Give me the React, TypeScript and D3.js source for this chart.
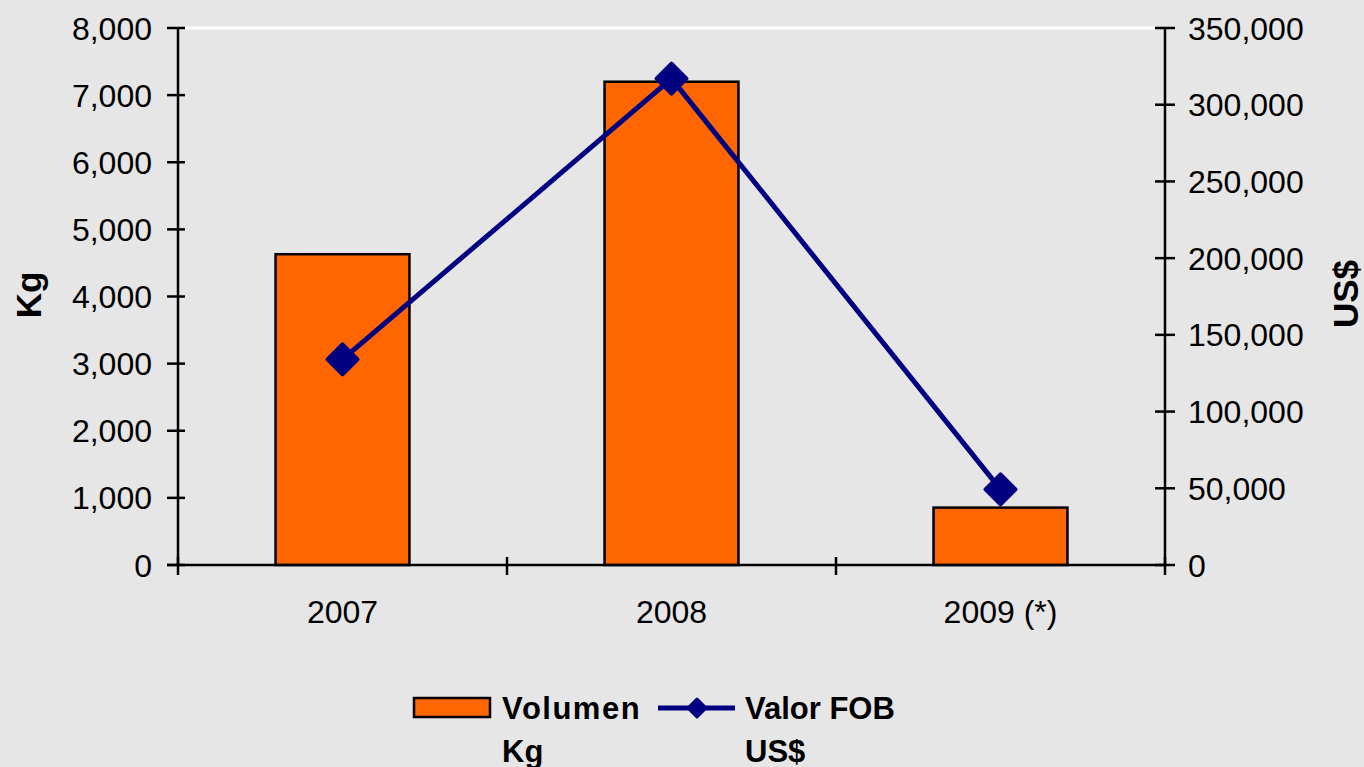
import React from 'react';
import * as d3 from 'd3';

const years = ['2007', '2008', '2009 (*)'];
const volumenKg = [4630, 7200, 855];
const valorFob = [134000, 317000, 49300];
const leftTicks = [0, 1000, 2000, 3000, 4000, 5000, 6000, 7000, 8000];
const rightTicks = [0, 50000, 100000, 150000, 200000, 250000, 300000, 350000];

const W = 1364;
const H = 767;
const margin = { top: 28, right: 199, bottom: 202, left: 178 };
const font = 'Liberation Sans, Arial, sans-serif';

export default function App() {
    const x = d3.scaleBand<string>()
        .domain(years)
        .range([margin.left, W - margin.right])
        .paddingInner(0.593)
        .paddingOuter(0.2965);
    const step = x.step();
    const x0 = margin.left;
    const x1 = W - margin.right;

    const yL = d3.scaleLinear().domain([0, 8000]).range([H - margin.bottom, margin.top]);
    const yR = d3.scaleLinear().domain([0, 350000]).range([H - margin.bottom, margin.top]);
    const fmt = d3.format(',');
    const y0 = H - margin.bottom;

    const line = d3.line<number>()
        .x((_, i) => (x(years[i]) ?? 0) + x.bandwidth() / 2)
        .y(d => yR(d));

    const diamond = (cx: number, cy: number, r: number) =>
        `M${cx},${cy - r}L${cx + r},${cy}L${cx},${cy + r}L${cx - r},${cy}Z`;

    const catBounds = d3.range(years.length + 1).map(i => x0 + i * step);

    return (
        <svg width={W} height={H} style={{ position: 'absolute', left: 0, top: 0, display: 'block' }}>
            <rect x={0} y={0} width={W} height={H} fill="#e6e6e6" />

            {/* top border of plot area */}
            <line x1={x0 + 7} x2={x1 - 10} y1={margin.top} y2={margin.top} stroke="#ffffff" strokeWidth={3} />

            {/* bars */}
            {volumenKg.map((v, i) => (
                <rect key={years[i]}
                    x={x(years[i])} y={yL(v)}
                    width={x.bandwidth()} height={y0 - yL(v)}
                    fill="#ff6600" stroke="#000" strokeWidth={2.5} />
            ))}

            {/* left axis */}
            <line x1={x0} x2={x0} y1={margin.top} y2={y0} stroke="#000" strokeWidth={2.5} />
            {leftTicks.map(t => (
                <g key={t}>
                    <line x1={x0 - 11} x2={x0 + 7} y1={yL(t)} y2={yL(t)} stroke="#000" strokeWidth={2.5} />
                    <text x={152} y={yL(t)} dy="0.36em" textAnchor="end" fontFamily={font} fontSize={32} fill="#000">{fmt(t)}</text>
                </g>
            ))}

            {/* right axis */}
            <line x1={x1} x2={x1} y1={margin.top} y2={y0} stroke="#000" strokeWidth={2.5} />
            {rightTicks.map(t => (
                <g key={t}>
                    <line x1={x1 - 10} x2={x1 + 10} y1={yR(t)} y2={yR(t)} stroke="#000" strokeWidth={2.5} />
                    <text x={1188} y={yR(t)} dy="0.36em" textAnchor="start" fontFamily={font} fontSize={32} fill="#000">{fmt(t)}</text>
                </g>
            ))}

            {/* bottom axis */}
            <line x1={x0 - 11} x2={x1} y1={y0} y2={y0} stroke="#000" strokeWidth={2.5} />
            {catBounds.map((b, i) => (
                <line key={i} x1={b} x2={b} y1={y0 - 8} y2={y0 + 10} stroke="#000" strokeWidth={2.5} />
            ))}
            {years.map(yr => (
                <text key={yr} x={(x(yr) ?? 0) + x.bandwidth() / 2} y={623} textAnchor="middle" fontFamily={font} fontSize={32} fill="#000">{yr}</text>
            ))}

            {/* line series */}
            <path d={line(valorFob) ?? ''} fill="none" stroke="#000080" strokeWidth={5} />
            {valorFob.map((v, i) => (
                <path key={i} d={diamond((x(years[i]) ?? 0) + x.bandwidth() / 2, yR(v), 15)}
                    fill="#000080" stroke="#000080" strokeWidth={4} strokeLinejoin="round" />
            ))}

            {/* axis titles */}
            <text transform="translate(41,295) rotate(-90)" textAnchor="middle" fontFamily={font} fontWeight="bold" fontSize={35} fill="#000">Kg</text>
            <text transform="translate(1358,294) rotate(-90)" textAnchor="middle" fontFamily={font} fontWeight="bold" fontSize={35} fill="#000">US$</text>

            {/* legend */}
            <rect x={414} y={698} width={76} height={19} fill="#ff6600" stroke="#000" strokeWidth={2.5} />
            <text x={502} y={719} fontFamily={font} fontWeight="bold" fontSize={31} letterSpacing={1.5} fill="#000">Volumen</text>
            <text x={502} y={762} fontFamily={font} fontWeight="bold" fontSize={31} fill="#000">Kg</text>
            <line x1={658} x2={735} y1={708} y2={708} stroke="#000080" strokeWidth={5} />
            <path d={diamond(697, 708, 9)} fill="#000080" stroke="#000080" strokeWidth={3} strokeLinejoin="round" />
            <text x={745} y={719} fontFamily={font} fontWeight="bold" fontSize={31} fill="#000">Valor FOB</text>
            <text x={745} y={762} fontFamily={font} fontWeight="bold" fontSize={31} fill="#000">US$</text>
        </svg>
    );
}
